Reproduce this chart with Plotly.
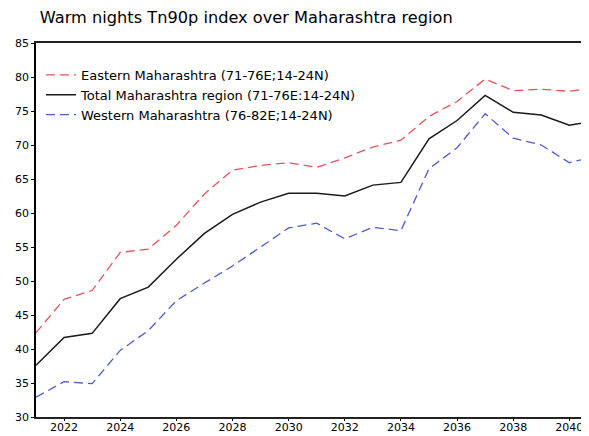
import plotly.graph_objects as go

years = list(range(2021, 2042))

eastern = [42.4, 47.3, 48.6, 54.2, 54.7, 58.2, 62.8, 66.3, 67.0, 67.4, 66.7,
           68.1, 69.7, 70.7, 74.2, 76.4, 79.7, 78.0, 78.2, 77.9, 78.5]
total = [37.6, 41.7, 42.3, 47.4, 49.1, 53.2, 57.0, 59.8, 61.6, 62.9, 62.9,
         62.5, 64.1, 64.5, 70.9, 73.6, 77.3, 74.8, 74.4, 72.9, 73.6]
western = [32.9, 35.2, 34.9, 39.8, 42.7, 47.1, 49.7, 52.2, 55.0, 57.8, 58.5,
           56.2, 57.9, 57.4, 66.5, 69.6, 74.6, 71.0, 70.0, 67.4, 68.4]

names = ["Eastern Maharashtra (71-76E;14-24N)",
         "Total Maharashtra region (71-76E:14-24N)",
         "Western Maharashtra (76-82E;14-24N)"]

y_ticks = list(range(30, 90, 5))
x_ticks = list(range(2022, 2042, 2))

font = "DejaVu Sans"

fig = go.Figure()
fig.add_trace(go.Scatter(x=years, y=eastern, name=names[0], mode="lines",
                         line=dict(color="#e5525c", width=1.3, dash="9px,5px")))
fig.add_trace(go.Scatter(x=years, y=total, name=names[1], mode="lines",
                         line=dict(color="#1a1a1a", width=1.5)))
fig.add_trace(go.Scatter(x=years, y=western, name=names[2], mode="lines",
                         line=dict(color="#4f5ccc", width=1.3, dash="9px,5px")))

# the page body adds an 8px offset, so margins are shifted up/left by 8px
fig.update_layout(
    width=589, height=436,
    margin=dict(l=28, r=8, t=35, b=27),
    paper_bgcolor="white", plot_bgcolor="white",
    font=dict(family=font, size=11, color="black"),
    title=dict(text="Warm nights Tn90p index over Maharashtra region",
               x=0.007, xref="paper", xanchor="left", y=0.979, yanchor="middle",
               font=dict(family=font, size=16.2, color="black")),
    showlegend=True,
    legend=dict(x=0.009, y=0.955, xanchor="left", yanchor="top",
                bgcolor="rgba(0,0,0,0)", font=dict(family=font, size=13),
                itemwidth=30, tracegroupgap=0),
    xaxis=dict(range=[2021, 2040.7], tickvals=x_ticks, showgrid=False,
               zeroline=False, showline=True, linecolor="#222", linewidth=1.5,
               mirror=True, ticks="outside", ticklen=2, tickcolor="black",
               ticklabelstandoff=-3, tickfont=dict(size=11), automargin=False),
    yaxis=dict(range=[30, 85], tickvals=y_ticks, showgrid=False,
               zeroline=False, showline=True, linecolor="black", linewidth=1.5,
               ticks="outside", ticklen=3, tickcolor="black",
               tickfont=dict(size=11), automargin=False),
)

fig.write_html("out.html")
